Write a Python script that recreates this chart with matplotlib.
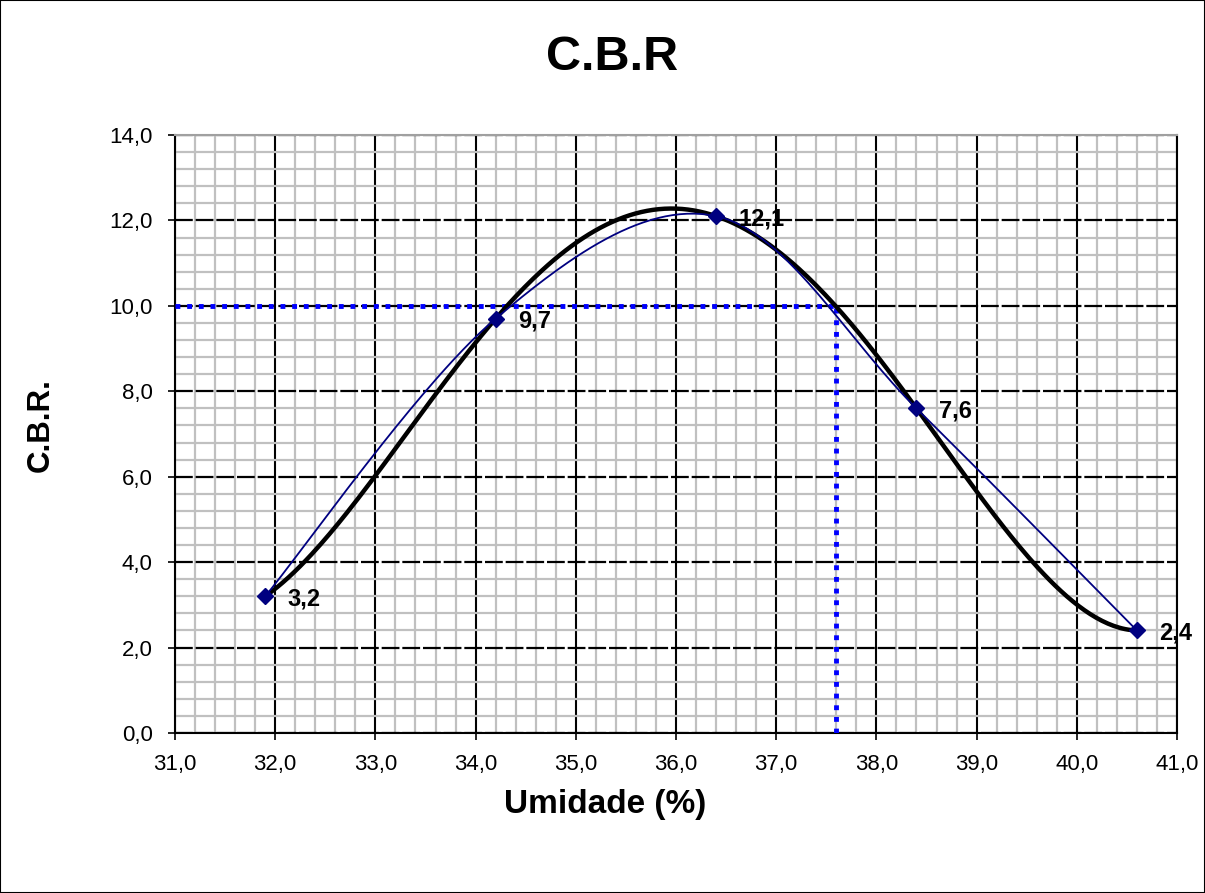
import numpy as np
import matplotlib
matplotlib.use("Agg")
from matplotlib import pyplot as plt
from matplotlib.patches import Rectangle
from matplotlib.ticker import FuncFormatter, MultipleLocator

# ensaio C.B.R. - umidade x indice
umidade = [31.9, 34.2, 36.4, 38.4, 40.6]
cbr = [3.2, 9.7, 12.1, 7.6, 2.4]
cbr_labels = ["3,2", "9,7", "12,1", "7,6", "2,4"]

cbr_projeto = 10.0
umidade_projeto = 37.6

x_lim = (31.0, 41.0)
y_lim = (0.0, 14.0)

plt.rcParams["font.family"] = ["Liberation Sans", "DejaVu Sans"]


def smooth_line(xs, ys, n=60):
    # curva suavizada tipo excel (bezier / catmull-rom)
    px = [xs[0]] + list(xs) + [xs[-1]]
    py = [ys[0]] + list(ys) + [ys[-1]]
    out_x, out_y = [], []
    t = np.linspace(0, 1, n)
    for i in range(1, len(px) - 2):
        x0, y0 = px[i], py[i]
        x3, y3 = px[i + 1], py[i + 1]
        x1 = x0 + (px[i + 1] - px[i - 1]) / 6
        y1 = y0 + (py[i + 1] - py[i - 1]) / 6
        x2 = x3 - (px[i + 2] - px[i]) / 6
        y2 = y3 - (py[i + 2] - py[i]) / 6
        bx = (1 - t) ** 3 * x0 + 3 * (1 - t) ** 2 * t * x1 + 3 * (1 - t) * t ** 2 * x2 + t ** 3 * x3
        by = (1 - t) ** 3 * y0 + 3 * (1 - t) ** 2 * t * y1 + 3 * (1 - t) * t ** 2 * y2 + t ** 3 * y3
        out_x.extend(bx)
        out_y.extend(by)
    return np.array(out_x), np.array(out_y)


fig = plt.figure(figsize=(12.05, 8.93), dpi=100)
ax = fig.add_axes([175 / 1205, 1 - 733 / 893, (1177 - 175) / 1205, (733 - 135) / 893])

ax.set_xlim(*x_lim)
ax.set_ylim(*y_lim)

ax.xaxis.set_major_locator(MultipleLocator(1.0))
ax.xaxis.set_minor_locator(MultipleLocator(0.2))
ax.yaxis.set_major_locator(MultipleLocator(2.0))
ax.yaxis.set_minor_locator(MultipleLocator(0.4))
fmt = FuncFormatter(lambda v, p: f"{v:.1f}".replace(".", ","))
ax.xaxis.set_major_formatter(fmt)
ax.yaxis.set_major_formatter(fmt)

ax.grid(which="minor", color="#c0c0c0", lw=1.6, zorder=0)
ax.xaxis.grid(which="major", color="black", lw=1.5, ls="-", zorder=1)
ax.yaxis.grid(which="major", color="black", lw=1.6, ls=(0, (8, 1.3)), zorder=1)
ax.set_axisbelow(True)

ax.tick_params(which="major", direction="out", length=5, width=1.2, labelsize=16, color="black")
ax.tick_params(which="minor", length=0)
ax.tick_params(axis="x", pad=10)
ax.tick_params(axis="y", pad=11)

ax.spines["top"].set_color("#a0a0a0")
ax.spines["top"].set_linewidth(1.5)
for s in ["left", "bottom", "right"]:
    ax.spines[s].set_color("black")
    ax.spines[s].set_linewidth(1.5)

fig.canvas.draw()
ylines = ax.yaxis.get_gridlines()
ylines[0].set_visible(False)
ylines[-1].set_visible(False)

# linhas de projeto (pontilhado azul)
ax.plot([x_lim[0], umidade_projeto], [cbr_projeto, cbr_projeto], color="#0000ff",
        lw=3.5, ls=(0, (1, 1.4)), zorder=3)
ax.plot([umidade_projeto, umidade_projeto], [y_lim[0], cbr_projeto], color="#0000ff",
        lw=3.5, ls=(0, (1, 1.4)), zorder=3)

# linha de tendencia polinomial
coef = np.polyfit(umidade, cbr, 4)
xt = np.linspace(umidade[0], umidade[-1], 300)
ax.plot(xt, np.polyval(coef, xt), color="black", lw=3.2, zorder=4, solid_capstyle="round")

sx, sy = smooth_line(umidade, cbr)
ax.plot(sx, sy, color="#000080", lw=1.3, zorder=5)
ax.plot(umidade, cbr, ls="none", marker="D", ms=8, color="#000080", zorder=6)

for x, y, lab in zip(umidade, cbr, cbr_labels):
    ax.annotate(lab, (x, y), xytext=(16, -2), textcoords="offset points",
                ha="left", va="center", fontsize=17, fontweight="bold", zorder=7)

fig.text(612 / 1205, 1 - 57 / 893, "C.B.R", ha="center", va="center", fontsize=35, fontweight="bold")
fig.text(41 / 1205, 1 - 425 / 893, "C.B.R.", ha="center", va="center", rotation=90,
         fontsize=22.5, fontweight="bold")
fig.text(605 / 1205, 1 - 805 / 893, "Umidade (%)", ha="center", va="center",
         fontsize=24, fontweight="bold")

fig.patches.append(Rectangle((0, 0), 1, 1, transform=fig.transFigure, fill=False,
                             ec="black", lw=1.5))

fig.savefig("out.png", dpi=100)
